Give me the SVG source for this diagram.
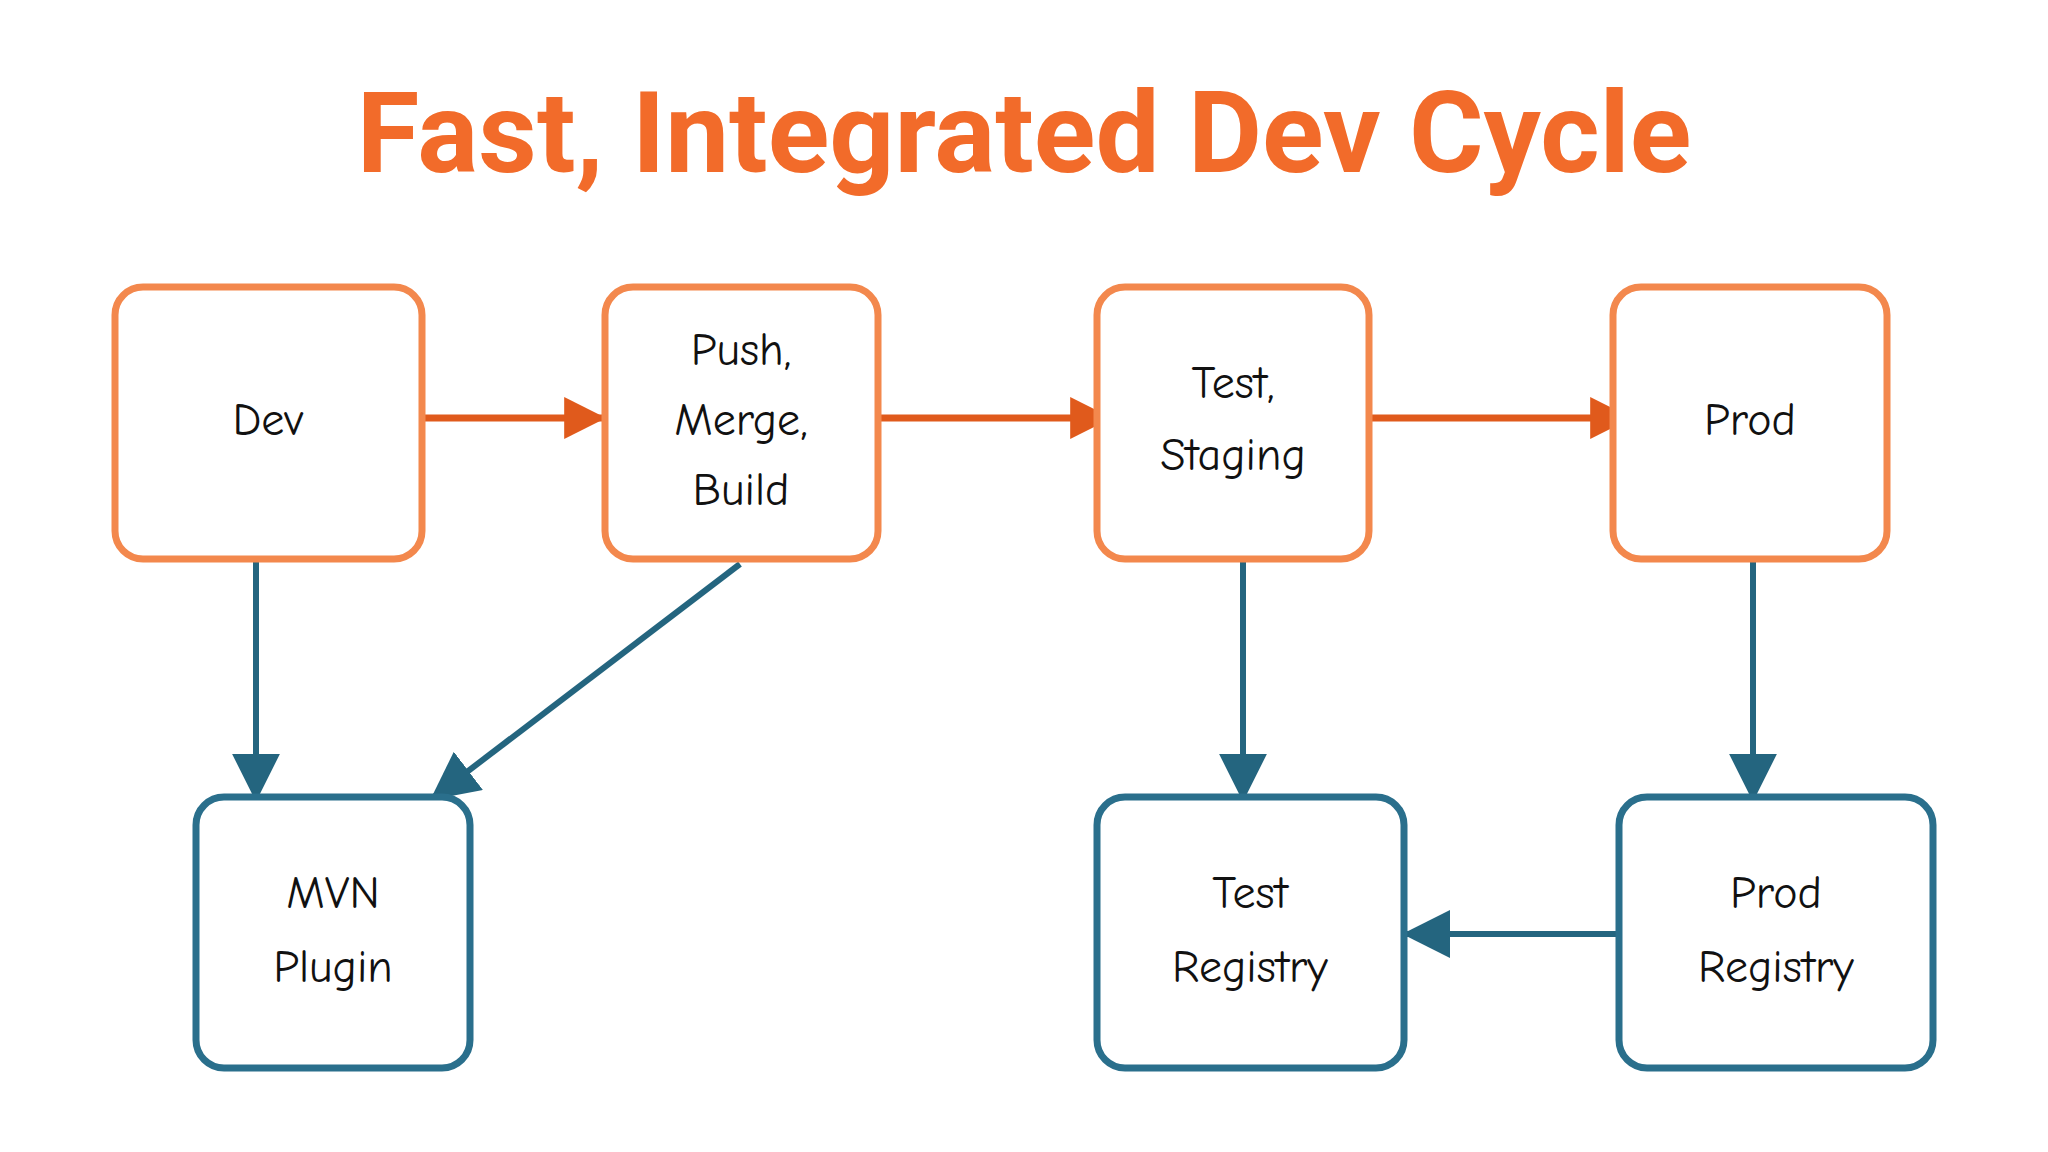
<svg xmlns="http://www.w3.org/2000/svg" width="2048" height="1152" viewBox="0 0 2048 1152">
<style>
.o{fill:#fff;stroke:#f3884d;stroke-width:7}
.b{fill:#fff;stroke:#2a6f8c;stroke-width:7}
.t{font-family:"Comic Neue","Noto Sans",sans-serif;font-size:46px;fill:#111;text-anchor:middle}
.co{stroke:#e05a1c;stroke-width:7;fill:none}
.cb{stroke:#24657f;stroke-width:6;fill:none}
</style>
<defs>
<marker id="ao" viewBox="0 0 10 10" refX="9" refY="5" markerWidth="6" markerHeight="6" orient="auto" markerUnits="strokeWidth"><path d="M0,0L10,5L0,10z" fill="#e05a1c"/></marker>
<marker id="ab" viewBox="0 0 10 10" refX="9" refY="5" markerWidth="8" markerHeight="8" orient="auto" markerUnits="strokeWidth"><path d="M0,0L10,5L0,10z" fill="#24657f"/></marker>
</defs>
<rect width="2048" height="1152" fill="#fff"/>
<text x="1024" y="172" font-family="Roboto,'Liberation Sans',sans-serif" font-weight="bold" font-size="114" fill="#f26b2a" text-anchor="middle">Fast, Integrated Dev Cycle</text>
<g id="connectors">
<line class="co" x1="425" y1="418" x2="602" y2="418" marker-end="url(#ao)"/>
<line class="co" x1="881" y1="418" x2="1108" y2="418" marker-end="url(#ao)"/>
<line class="co" x1="1372" y1="418" x2="1628" y2="418" marker-end="url(#ao)"/>
<line class="cb" x1="256" y1="562" x2="256" y2="797" marker-end="url(#ab)"/>
<line class="cb" x1="740" y1="564" x2="434" y2="797" marker-end="url(#ab)"/>
<line class="cb" x1="1243" y1="562" x2="1243" y2="797" marker-end="url(#ab)"/>
<line class="cb" x1="1753" y1="562" x2="1753" y2="797" marker-end="url(#ab)"/>
<line class="cb" x1="1616" y1="934" x2="1407" y2="934" marker-end="url(#ab)"/>
</g>
<g id="dev"><rect class="o" x="115" y="287" width="307" height="272" rx="28"/><text class="t" x="268" y="435">Dev</text></g>
<g id="push"><rect class="o" x="605" y="287" width="273" height="272" rx="28"/><text class="t" x="741" y="365">Push,</text><text class="t" x="741" y="435">Merge,</text><text class="t" x="741" y="505">Build</text></g>
<g id="test"><rect class="o" x="1097" y="287" width="272" height="272" rx="28"/><text class="t" x="1233" y="398">Test,</text><text class="t" x="1233" y="470">Staging</text></g>
<g id="prod"><rect class="o" x="1613" y="287" width="274" height="272" rx="28"/><text class="t" x="1750" y="435">Prod</text></g>
<g id="mvn"><rect class="b" x="196" y="797" width="274" height="271" rx="28"/><text class="t" x="333" y="908">MVN</text><text class="t" x="333" y="982">Plugin</text></g>
<g id="testreg"><rect class="b" x="1097" y="797" width="307" height="271" rx="28"/><text class="t" x="1250" y="908">Test</text><text class="t" x="1250" y="982">Registry</text></g>
<g id="prodreg"><rect class="b" x="1619" y="797" width="314" height="271" rx="28"/><text class="t" x="1776" y="908">Prod</text><text class="t" x="1776" y="982">Registry</text></g>
</svg>
